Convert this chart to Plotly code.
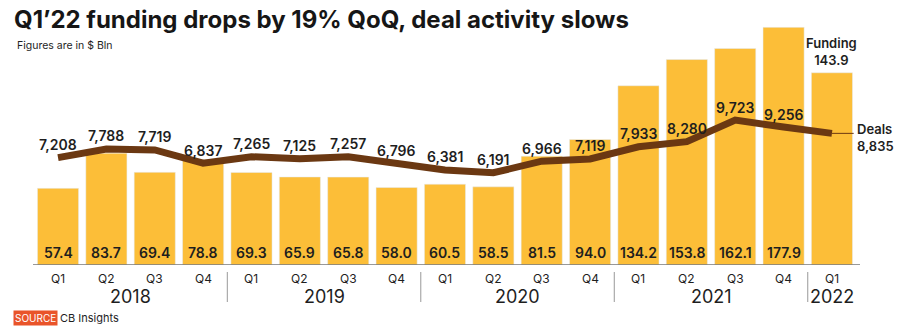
import plotly.graph_objects as go

quarters = ["Q1", "Q2", "Q3", "Q4"] * 4 + ["Q1"]
years = ["2018", "2019", "2020", "2021", "2022"]
funding = [57.4, 83.7, 69.4, 78.8, 69.3, 65.9, 65.8, 58.0, 60.5, 58.5,
           81.5, 94.0, 134.2, 153.8, 162.1, 177.9, 143.9]
deals = [7208, 7788, 7719, 6837, 7265, 7125, 7257, 6796, 6381, 6191,
         6966, 7119, 7933, 8280, 9723, 9256, 8835]

BAR = "#FCBE38"
LINE = "#6B3812"
INK = "#1e1e1e"
FONT = "Inter"

# canvas and plot-area geometry (pixels)
W, H = 900, 334
L, R, T, B = 33, 40, 10, 69
pw, ph = W - L - R, H - T - B


def px(xp):
    return (xp - L) / pw


def py(yp):
    return (H - B - yp) / ph


x = list(range(len(funding)))
last = len(funding) - 1

fig = go.Figure()
fig.add_trace(go.Bar(x=x, y=funding, marker_color=BAR, width=0.85,
                     yaxis="y", hoverinfo="skip"))
fig.add_trace(go.Scatter(x=x, y=deals, mode="lines", yaxis="y2",
                         line=dict(color=LINE, width=7),
                         hoverinfo="skip"))

ann = []
# funding values at the foot of each bar (the latest one sits above its bar)
for i, v in enumerate(funding[:-1]):
    ann.append(dict(x=i, y=0, yref="y", text=f"{v:.1f}", showarrow=False,
                    yanchor="bottom", yshift=2,
                    font=dict(family=FONT, size=14, color=INK, weight=600)))
ann.append(dict(x=last, y=funding[-1], yref="y", text=f"Funding<br>{funding[-1]:.1f}",
                showarrow=False, yanchor="bottom", yshift=3,
                font=dict(family=FONT, size=13, color=INK, weight=600)))
# deal counts above the line
for i, d in enumerate(deals[:-1]):
    ann.append(dict(x=i, y=d, yref="y2", text=f"{d:,}", showarrow=False,
                    yanchor="middle", yshift=13,
                    font=dict(family=FONT, size=14, color=INK, weight=600)))
ann.append(dict(x=last + 0.47, y=deals[-1], yref="y2", text=f"Deals<br>{deals[-1]:,}",
                showarrow=False, xanchor="left", yanchor="middle", yshift=-4,
                align="left",
                font=dict(family=FONT, size=13, color=INK, weight=600)))
# quarter and year labels
for i, q in enumerate(quarters):
    ann.append(dict(x=i, y=py(278), yref="paper", text=q, showarrow=False,
                    yanchor="middle",
                    font=dict(family=FONT, size=12, color=INK)))
year_centers = [1.5, 5.5, 9.5, 13.5, 16]
for xc, yr in zip(year_centers, years):
    ann.append(dict(x=xc, y=py(296), yref="paper", text=yr, showarrow=False,
                    yanchor="middle",
                    font=dict(family=FONT, size=18, color=INK)))
# title, note and source
ann.append(dict(x=px(12), y=py(3), xref="paper", yref="paper",
                text="<b>Q1’22 funding drops by 19% QoQ, deal activity slows</b>",
                showarrow=False, xanchor="left", yanchor="top",
                font=dict(family=FONT, size=24, color="#161616")))
ann.append(dict(x=px(15), y=py(37), xref="paper", yref="paper",
                text="Figures are in $ Bln", showarrow=False,
                xanchor="left", yanchor="top",
                font=dict(family=FONT, size=10.5, color=INK)))
ann.append(dict(x=px(13), y=py(318), xref="paper", yref="paper",
                text="SOURCE", showarrow=False, xanchor="left", yanchor="middle",
                bgcolor="#E9542A", borderpad=1,
                font=dict(family=FONT, size=10, color="white")))
ann.append(dict(x=px(58), y=py(318), xref="paper", yref="paper",
                text="CB Insights", showarrow=False, xanchor="left", yanchor="middle",
                font=dict(family=FONT, size=11, color=INK)))

shapes = [
    # baseline
    dict(type="line", xref="paper", yref="y", x0=0, x1=1, y0=0, y1=0,
         line=dict(color="#777777", width=1.5)),
    # connector to the deals label
    dict(type="line", xref="x", yref="y2", x0=last, x1=last + 0.45,
         y0=deals[-1], y1=deals[-1], line=dict(color=LINE, width=1)),
]
for sep in [3.5, 7.5, 11.5, 15.5]:
    shapes.append(dict(type="line", xref="x", yref="paper", x0=sep, x1=sep,
                       y0=py(272), y1=py(302),
                       line=dict(color="#999999", width=1)))

fig.update_layout(
    width=W, height=H,
    margin=dict(l=L, r=R, t=T, b=B),
    paper_bgcolor="white", plot_bgcolor="white",
    showlegend=False,
    xaxis=dict(range=[-0.517, 16.58], visible=False),
    yaxis=dict(range=[0, 190.9], visible=False),
    yaxis2=dict(range=[0, 17114], visible=False, overlaying="y", side="right"),
    annotations=ann,
    shapes=shapes,
)

fig.write_html("out.html")
